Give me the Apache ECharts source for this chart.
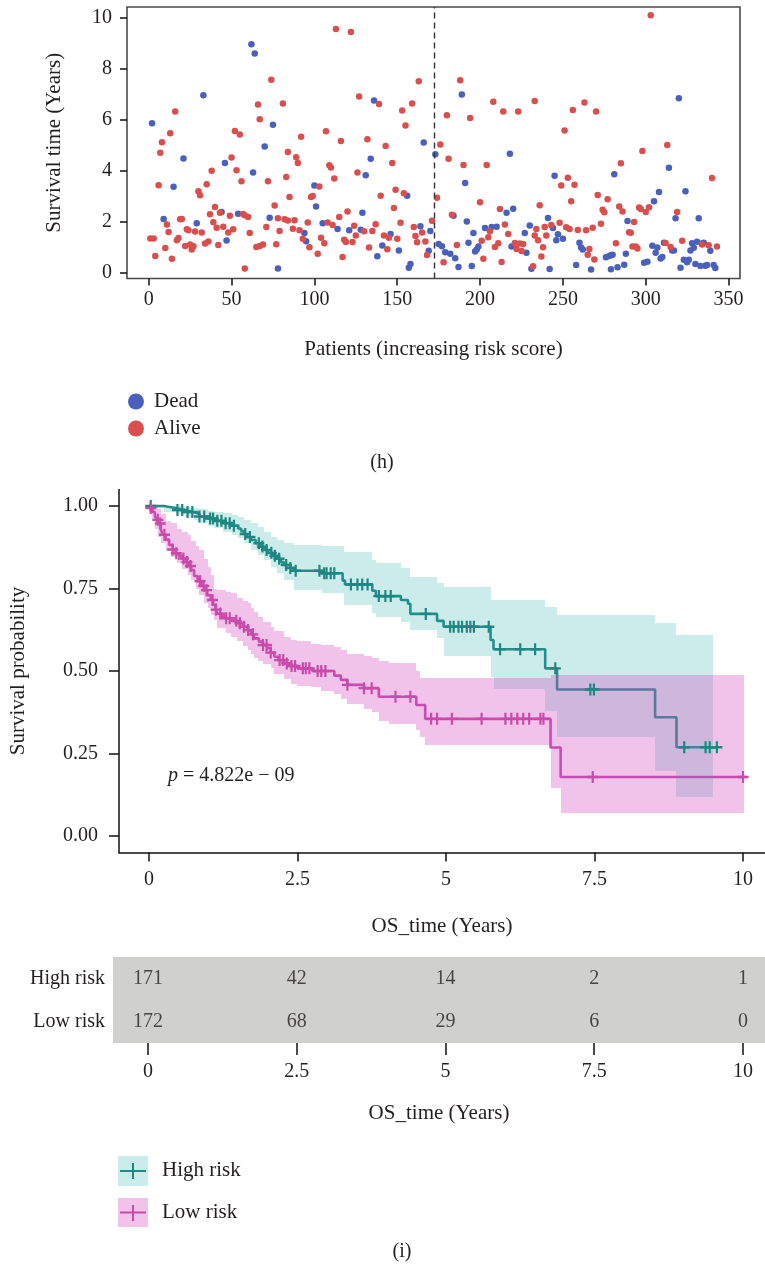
<!DOCTYPE html>
<html>
<head>
<meta charset="utf-8">
<script src="https://cdn.jsdelivr.net/npm/echarts@6/dist/echarts.min.js"></script>
<style>
  html, body { margin: 0; padding: 0; background: #ffffff; }
  #chart { width: 765px; height: 1265px; }
</style>
</head>
<body>
<div id="chart"></div>
<script>
// ---------- (h) survival time per patient, ordered by risk score ----------
const patientTicks = [0, 50, 100, 150, 200, 250, 300, 350];
const survTimeTicks = [0, 2, 4, 6, 8, 10];
const riskCutoff = 172.5;

// [patient, survival time in years]
const deadPoints = [
  [2,5.86],[9,2.10],[15,3.36],[21,4.47],[29,1.93],[33,6.95],[44,2.37],[46,4.30],[47,1.26],[54,2.31],
  [62,8.95],[63,3.92],[64,8.59],[70,4.94],[73,2.15],[75,5.80],[78,0.16],
  [94,1.55],[95,1.23],[100,3.41],[101,2.59],[105,1.93],[114,1.71],[121,1.66],[128,1.68],[129,2.34],
  [131,3.82],[134,4.46],[136,6.75],[138,0.64],[141,1.06],[146,1.51],[151,0.86],[156,3.01],[157,0.19],
  [158,0.33],[164,1.81],[166,5.10],[169,0.85],[170,1.63],
  [173,4.64],[175,1.12],[177,1.03],[179,0.79],[182,0.74],[184,2.23],[185,0.56],[187,0.22],[189,6.98],
  [191,3.51],[192,2.00],[193,1.17],[195,0.26],[196,1.55],[197,0.82],[198,0.90],[199,1.02],[203,1.75],
  [207,1.79],[210,1.80],[216,2.34],[218,4.66],[219,1.02],[220,2.50],[227,1.55],[228,0.78],[230,1.84],
  [231,0.15],[241,2.14],[242,0.14],[244,1.75],[245,3.80],[246,1.27],[247,1.50],[250,1.32],[258,0.29],
  [260,1.17],[261,0.98],[262,0.90],[267,0.12],
  [276,0.60],[278,0.65],[279,0.68],[280,0.70],[279,0.13],[281,3.85],[283,0.21],[287,0.30],[288,0.74],
  [289,2.02],[299,0.38],[301,0.42],[304,1.05],[305,2.80],[306,0.78],[307,0.98],[308,3.16],[309,0.55],
  [310,0.61],[311,1.17],[314,4.11],[316,0.86],[317,0.86],[318,2.13],[320,6.84],[321,0.19],[323,0.50],
  [324,3.19],[325,0.40],[326,0.50],[327,0.86],[328,1.15],[329,0.97],[330,0.33],[331,1.21],[332,2.13],
  [333,0.26],[334,1.14],[335,1.17],[336,0.27],[337,0.29],[339,0.85],[341,0.29],[342,0.18]
];

const alivePoints = [
  [1,1.33],[3,1.33],[4,0.65],[6,3.42],[7,4.70],[8,5.11],[10,0.96],[11,1.88],[12,1.59],[13,5.46],
  [14,0.54],[16,6.32],[17,1.27],[18,1.35],[19,2.09],[20,2.10],[22,1.04],[23,1.70],[24,1.66],[25,1.10],
  [26,0.90],[27,1.03],[28,1.61],[30,3.19],[31,3.03],[32,1.57],[34,1.14],[35,3.46],[36,1.22],[37,2.29],
  [38,3.99],[39,1.97],[40,2.57],[41,1.76],[42,1.08],[43,2.34],[45,1.80],[48,1.57],[49,2.23],[50,4.51],
  [51,1.70],[52,5.55],[53,4.01],[55,5.41],[56,3.58],[57,2.30],[58,2.25],[58,0.16],[60,2.18],[61,1.55],
  [65,1.00],[66,6.59],[67,1.04],[67,6.01],[69,1.10],[71,1.79],[72,3.58],[74,7.56],[76,2.63],[77,1.11],
  [78,2.13],[79,1.63],
  [81,6.63],[82,2.09],[83,3.75],[84,4.73],[84,2.04],[85,2.96],[87,1.72],[88,2.05],[89,4.52],[90,4.30],
  [91,1.66],[92,5.33],[93,1.32],[96,1.96],[97,0.99],[98,2.96],[99,3.00],[102,0.74],[103,3.37],[104,1.36],
  [106,1.15],[107,5.54],[108,1.96],[109,4.21],[110,4.12],[111,1.86],[112,3.69],[113,9.55],[115,2.18],
  [116,5.16],[117,0.61],[118,1.29],[119,1.20],[120,2.39],[122,9.44],[123,1.20],[124,1.83],[125,1.45],
  [126,3.92],[127,6.90],[130,1.62],[132,5.23],[133,0.98],[135,1.63],[137,1.89],[139,6.61],[140,3.01],
  [142,1.45],[143,4.96],[144,0.91],[145,1.36],[147,4.30],[148,2.53],[149,3.25],[150,1.32],[152,1.95],
  [153,6.36],[154,3.11],[155,5.77],[159,6.63],[160,1.79],[161,1.43],[162,1.19],[163,7.50],[165,1.57],
  [167,1.22],[168,0.69],[171,2.03],
  [174,2.93],[176,5.02],[178,0.40],[180,6.17],[181,4.46],[183,2.27],[186,1.08],[188,7.54],[190,4.22],
  [194,6.06],[200,2.76],[201,1.25],[202,0.54],[204,4.22],[205,1.38],[206,1.62],[208,6.70],[209,1.00],
  [211,1.15],[212,2.49],[213,0.41],[214,6.32],[215,1.88],[217,1.51],[221,1.16],[222,0.92],[223,6.32],
  [224,1.14],[225,0.84],[226,1.12],[232,0.25],[233,1.45],[233,6.73],[234,1.71],[235,1.27],[236,2.64],
  [237,0.63],[238,0.99],[239,1.79],[240,1.45],[243,1.86],[248,1.95],[249,3.41],[251,5.57],[252,1.78],
  [253,3.72],[254,1.71],[255,2.80],[256,6.38],[257,3.44],[259,1.67],[263,6.67],[264,1.66],[265,0.70],
  [266,0.92],[268,1.76],[269,0.51],[270,6.32],[271,3.04],
  [273,1.91],[274,2.46],[275,2.36],[277,2.87],[282,1.15],[284,2.59],[285,4.29],[286,2.39],[290,1.58],
  [291,1.56],[292,1.02],[293,1.98],[294,1.02],[295,0.94],[296,2.55],[297,2.49],[298,4.77],[300,2.37],
  [302,2.56],[303,10.09],[312,1.16],[313,5.00],[315,1.00],[319,2.37],[322,1.25],[334,1.10],[338,1.07],
  [340,3.71],[343,1.02]
];

// ---------- (i) Kaplan-Meier curves ----------
const timeTicks = [0, 2.5, 5, 7.5, 10];
const probTicks = [0, 0.25, 0.5, 0.75, 1];

// [time, survival] steps
const highRiskSteps = [
  [0,1.000],[0.25,0.994],[0.45,0.988],[0.60,0.982],[0.75,0.976],[0.85,0.968],[1.00,0.962],[1.10,0.955],
  [1.25,0.948],[1.40,0.940],[1.50,0.932],[1.55,0.924],[1.60,0.915],[1.65,0.906],[1.72,0.897],[1.80,0.887],
  [1.88,0.877],[1.94,0.867],[2.00,0.858],[2.08,0.849],[2.16,0.840],[2.22,0.830],[2.27,0.821],[2.38,0.812],
  [2.45,0.804],[2.92,0.796],[3.26,0.774],[3.30,0.762],[3.76,0.743],[3.82,0.727],[4.24,0.715],[4.36,0.704],
  [4.40,0.673],[4.85,0.652],[4.96,0.634],[5.75,0.594],[5.80,0.566],[6.67,0.508],[6.87,0.444],[8.52,0.360],
  [8.88,0.269]
];
const highRiskEnd = 9.56;

const lowRiskSteps = [
  [0,1.000],[0.03,0.994],[0.06,0.982],[0.10,0.970],[0.13,0.958],[0.16,0.947],[0.20,0.930],[0.23,0.913],
  [0.28,0.898],[0.34,0.882],[0.40,0.868],[0.45,0.857],[0.50,0.849],[0.56,0.841],[0.62,0.830],[0.67,0.818],
  [0.71,0.806],[0.76,0.788],[0.82,0.772],[0.88,0.758],[0.93,0.745],[0.98,0.730],[1.04,0.715],[1.08,0.700],
  [1.12,0.686],[1.15,0.674],[1.22,0.667],[1.29,0.660],[1.40,0.652],[1.49,0.645],[1.58,0.634],[1.66,0.624],
  [1.72,0.611],[1.77,0.599],[1.85,0.589],[1.92,0.579],[1.99,0.569],[2.05,0.556],[2.11,0.543],[2.18,0.533],
  [2.27,0.523],[2.38,0.515],[2.50,0.508],[2.75,0.500],[3.12,0.486],[3.23,0.473],[3.34,0.458],[3.62,0.448],
  [3.87,0.422],[4.50,0.397],[4.65,0.355],[6.76,0.268],[6.93,0.179]
];
const lowRiskEnd = 10.05;

// confidence band steps: [start time, lower, upper]
const highRiskBand = [
  [0.00,0.995,1.000],[0.25,0.983,1.000],[0.45,0.975,1.000],[0.60,0.966,0.998],[0.75,0.958,0.995],
  [0.85,0.948,0.990],[1.00,0.940,0.986],[1.10,0.932,0.982],[1.25,0.922,0.978],[1.40,0.912,0.972],
  [1.50,0.902,0.966],[1.60,0.888,0.958],[1.72,0.868,0.948],[1.83,0.851,0.937],[1.94,0.836,0.922],
  [2.05,0.816,0.907],[2.16,0.796,0.897],[2.27,0.775,0.887],[2.45,0.745,0.882],[2.92,0.735,0.878],
  [3.28,0.700,0.861],[3.76,0.676,0.836],[3.82,0.665,0.828],[4.24,0.650,0.811],[4.40,0.624,0.784],
  [4.85,0.600,0.768],[4.96,0.545,0.754],[5.75,0.483,0.714],[5.80,0.445,0.714],[6.67,0.380,0.695],
  [6.87,0.300,0.670],[8.52,0.198,0.646],[8.88,0.119,0.609]
];
const highRiskBandEnd = 9.50;

const lowRiskBand = [
  [0.00,0.985,1.000],[0.05,0.960,1.000],[0.10,0.930,0.998],[0.15,0.905,0.990],[0.20,0.887,0.975],
  [0.28,0.865,0.955],[0.37,0.845,0.947],[0.48,0.826,0.930],[0.56,0.810,0.920],[0.65,0.790,0.912],
  [0.71,0.775,0.895],[0.80,0.750,0.880],[0.85,0.730,0.867],[0.93,0.705,0.840],[0.99,0.690,0.816],
  [1.04,0.670,0.790],[1.10,0.654,0.750],[1.15,0.630,0.745],[1.29,0.615,0.738],[1.38,0.603,0.735],
  [1.49,0.590,0.720],[1.58,0.575,0.712],[1.66,0.565,0.705],[1.71,0.553,0.690],[1.77,0.540,0.680],
  [1.83,0.530,0.664],[1.92,0.520,0.650],[2.05,0.508,0.634],[2.11,0.490,0.620],[2.27,0.475,0.603],
  [2.39,0.462,0.595],[2.50,0.455,0.590],[2.72,0.452,0.583],[2.89,0.440,0.578],[3.12,0.430,0.574],
  [3.23,0.415,0.563],[3.34,0.400,0.553],[3.62,0.385,0.545],[3.76,0.375,0.538],[3.87,0.350,0.530],
  [4.04,0.340,0.523],[4.50,0.320,0.500],[4.57,0.300,0.480],[4.65,0.276,0.480],[6.76,0.145,0.488],
  [6.93,0.069,0.488]
];
const lowRiskBandEnd = 10.02;

// censoring times
const highRiskCensor = [
  0.03,0.48,0.56,0.65,0.73,0.85,0.93,1.03,1.08,1.15,1.22,1.29,1.36,1.43,1.62,1.70,1.85,1.91,1.98,2.06,
  2.12,2.19,2.31,2.38,2.47,2.87,2.95,2.99,3.06,3.12,3.40,3.51,3.59,3.68,3.87,3.98,4.07,4.66,5.07,5.13,
  5.21,5.27,5.35,5.41,5.47,5.72,5.91,6.25,6.50,6.84,7.43,7.49,9.01,9.37,9.44,9.56
];
const lowRiskCensor = [
  0.03,0.15,0.19,0.26,0.40,0.46,0.58,0.64,0.70,0.86,0.92,0.97,1.07,1.13,1.20,1.30,1.36,1.47,1.53,1.60,
  1.67,1.75,1.92,1.98,2.05,2.20,2.26,2.32,2.40,2.46,2.59,2.64,2.70,2.84,2.90,2.97,3.34,3.62,3.75,4.15,
  4.40,4.75,4.85,5.10,5.60,6.00,6.10,6.20,6.30,6.40,6.59,6.64,7.47,10.00
];

// number at risk
const riskGroups = ['Low risk', 'High risk'];
const highRiskAtRisk = [171, 42, 14, 2, 1];
const lowRiskAtRisk = [172, 68, 29, 6, 0];

const pValueText = '4.822e \u2212 09';

// ---------- styling ----------
const FONT = 'Liberation Serif';
const TEXT = '#231f20';
const DEAD_COLOR = '#4a60bd';
const ALIVE_COLOR = '#d84f4d';
const HIGH_LINE = '#1f8782';
const LOW_LINE = '#c84baa';
const HIGH_FILL = 'rgba(40,175,170,0.24)';
const LOW_FILL = 'rgba(212,72,190,0.33)';
const PLUS = 'path://M4,0H6V4H10V6H6V10H4V6H0V4H4Z';

function curveData(steps, end) {
  const d = steps.map(s => [s[0], s[1]]);
  d.push([end, steps[steps.length - 1][1]]);
  return d;
}
function bandData(band, end) {
  return band.map((b, i) => [b[0], i + 1 < band.length ? band[i + 1][0] : end, b[1], b[2]]);
}
function survAt(steps, t) {
  let s = steps[0][1];
  for (const [ti, si] of steps) { if (ti <= t) s = si; else break; }
  return s;
}
function bandRenderer(fill) {
  return function (params, api) {
    const a = api.coord([api.value(0), api.value(3)]);
    const b = api.coord([api.value(1), api.value(2)]);
    const x0 = Math.round(a[0]), x1 = Math.round(b[0]);
    const y0 = Math.round(a[1]), y1 = Math.round(b[1]);
    return { type: 'rect', shape: { x: x0, y: y0, width: x1 - x0, height: y1 - y0 }, style: { fill: fill } };
  };
}

const tickLabel = { fontFamily: FONT, fontSize: 20, color: TEXT };
const axisTitle = { fontFamily: FONT, fontSize: 21, color: TEXT };
const tickStyle = { color: '#111', width: 1.5 };

const chart = echarts.init(document.getElementById('chart'), null, { renderer: 'canvas' });

const option = {
  backgroundColor: '#ffffff',
  animation: false,
  grid: [
    { left: 127, top: 7, width: 613, height: 271.5, show: true, borderColor: '#4a4a4a', borderWidth: 1.6, containLabel: false },
    { left: 118, top: 489.5, right: 0, height: 363, containLabel: false },
    { left: 113, top: 957, right: 0, height: 86, show: true, backgroundColor: '#d0d0cf', borderWidth: 0, containLabel: false }
  ],
  xAxis: [
    {
      gridIndex: 0, type: 'value', min: -13.1, max: 356.9,
      name: 'Patients (increasing risk score)', nameLocation: 'middle', nameGap: 60, nameTextStyle: axisTitle,
      axisLine: { show: false, onZero: false },
      axisTick: { show: true, length: 7, lineStyle: tickStyle, customValues: patientTicks },
      axisLabel: Object.assign({ margin: 11, customValues: patientTicks }, tickLabel),
      splitLine: { show: false }
    },
    {
      gridIndex: 1, type: 'value', min: -0.5042, max: 10.370,
      name: 'OS_time (Years)', nameLocation: 'middle', nameGap: 63, nameTextStyle: axisTitle,
      axisLine: { show: true, onZero: false, lineStyle: { color: '#111', width: 1.5 } },
      axisTick: { show: true, length: 9, lineStyle: tickStyle, customValues: timeTicks },
      axisLabel: Object.assign({ margin: 17, customValues: timeTicks, formatter: v => String(v) }, tickLabel),
      splitLine: { show: false }
    },
    {
      gridIndex: 2, type: 'value', min: -0.588, max: 10.370,
      name: 'OS_time (Years)', nameLocation: 'middle', nameGap: 60, nameTextStyle: axisTitle,
      axisLine: { show: false, onZero: false },
      axisTick: { show: true, length: 12, lineStyle: tickStyle, customValues: timeTicks },
      axisLabel: Object.assign({ margin: 19, customValues: timeTicks, formatter: v => String(v) }, tickLabel),
      splitLine: { show: false }
    }
  ],
  yAxis: [
    {
      gridIndex: 0, type: 'value', min: -0.235, max: 10.416,
      name: 'Survival time (Years)', nameLocation: 'middle', nameGap: 62, nameTextStyle: axisTitle,
      axisLine: { show: false, onZero: false },
      axisTick: { show: true, length: 7, lineStyle: tickStyle, customValues: survTimeTicks },
      axisLabel: Object.assign({ margin: 15, customValues: survTimeTicks }, tickLabel),
      splitLine: { show: false }
    },
    {
      gridIndex: 1, type: 'value', min: -0.05, max: 1.05,
      name: 'Survival probability', nameLocation: 'middle', nameGap: 90, nameTextStyle: axisTitle,
      axisLine: { show: true, onZero: false, lineStyle: { color: '#111', width: 1.5 } },
      axisTick: { show: true, length: 10, lineStyle: tickStyle, customValues: probTicks },
      axisLabel: Object.assign({ margin: 21, customValues: probTicks, formatter: v => v.toFixed(2) }, tickLabel),
      splitLine: { show: false }
    },
    {
      gridIndex: 2, type: 'category', data: riskGroups,
      axisLine: { show: false, onZero: false }, axisTick: { show: false },
      axisLabel: Object.assign({ margin: 8 }, tickLabel),
      splitLine: { show: false }
    }
  ],
  legend: {
    data: ['Dead', 'Alive'], orient: 'vertical', left: 123, top: 386,
    icon: 'circle', itemWidth: 26, itemHeight: 16, itemGap: 6,
    itemStyle: { opacity: 1 },
    textStyle: { fontFamily: FONT, fontSize: 21, color: TEXT }
  },
  graphic: [
    { type: 'text', x: 382, y: 463, style: { text: '(h)', fontFamily: FONT, fontSize: 20, fill: TEXT, align: 'center', verticalAlign: 'middle' } },
    { type: 'text', x: 402, y: 1252, style: { text: '(i)', fontFamily: FONT, fontSize: 20, fill: TEXT, align: 'center', verticalAlign: 'middle' } },
    {
      type: 'text', x: 168, y: 776, z: 10,
      style: {
        text: '{i|p} = ' + pValueText, verticalAlign: 'middle',
        fontFamily: FONT, fontSize: 20, fill: TEXT,
        rich: { i: { fontFamily: FONT, fontSize: 20, fontStyle: 'italic', fill: TEXT } }
      }
    },
    // legend for the survival curves
    { type: 'rect', shape: { x: 118, y: 1156, width: 30, height: 30 }, style: { fill: HIGH_FILL } },
    { type: 'line', shape: { x1: 120, y1: 1171, x2: 146, y2: 1171 }, style: { stroke: HIGH_LINE, lineWidth: 2 } },
    { type: 'line', shape: { x1: 133, y1: 1163, x2: 133, y2: 1179 }, style: { stroke: HIGH_LINE, lineWidth: 2 } },
    { type: 'text', x: 162, y: 1170, style: { text: 'High risk', fontFamily: FONT, fontSize: 21, fill: TEXT, verticalAlign: 'middle' } },
    { type: 'rect', shape: { x: 118, y: 1198, width: 30, height: 29 }, style: { fill: LOW_FILL } },
    { type: 'line', shape: { x1: 120, y1: 1212.5, x2: 146, y2: 1212.5 }, style: { stroke: LOW_LINE, lineWidth: 2 } },
    { type: 'line', shape: { x1: 133, y1: 1205, x2: 133, y2: 1221 }, style: { stroke: LOW_LINE, lineWidth: 2 } },
    { type: 'text', x: 162, y: 1212, style: { text: 'Low risk', fontFamily: FONT, fontSize: 21, fill: TEXT, verticalAlign: 'middle' } }
  ],
  series: [
    {
      name: 'Dead', type: 'scatter', xAxisIndex: 0, yAxisIndex: 0,
      data: deadPoints, symbol: 'circle', symbolSize: 6.5,
      itemStyle: { color: DEAD_COLOR, opacity: 1 }, z: 3,
      markLine: {
        silent: true, symbol: ['none', 'none'], label: { show: false },
        lineStyle: { color: '#333', type: [6, 4], width: 1.4 },
        data: [{ xAxis: riskCutoff }]
      }
    },
    {
      name: 'Alive', type: 'scatter', xAxisIndex: 0, yAxisIndex: 0,
      data: alivePoints, symbol: 'circle', symbolSize: 6.5,
      itemStyle: { color: ALIVE_COLOR, opacity: 1 }, z: 3
    },
    {
      name: 'High risk curve', type: 'line', xAxisIndex: 1, yAxisIndex: 1,
      data: curveData(highRiskSteps, highRiskEnd), step: 'end', showSymbol: false, symbol: 'none',
      lineStyle: { color: HIGH_LINE, width: 2.6 }, z: 2
    },
    {
      name: 'Low risk curve', type: 'line', xAxisIndex: 1, yAxisIndex: 1,
      data: curveData(lowRiskSteps, lowRiskEnd), step: 'end', showSymbol: false, symbol: 'none',
      lineStyle: { color: LOW_LINE, width: 2.6 }, z: 2
    },
    {
      name: 'High risk band', type: 'custom', xAxisIndex: 1, yAxisIndex: 1,
      data: bandData(highRiskBand, highRiskBandEnd), encode: { x: [0, 1], y: [2, 3] },
      renderItem: bandRenderer(HIGH_FILL), silent: true, z: 3
    },
    {
      name: 'Low risk band', type: 'custom', xAxisIndex: 1, yAxisIndex: 1,
      data: bandData(lowRiskBand, lowRiskBandEnd), encode: { x: [0, 1], y: [2, 3] },
      renderItem: bandRenderer(LOW_FILL), silent: true, z: 4
    },
    {
      name: 'High risk censored', type: 'scatter', xAxisIndex: 1, yAxisIndex: 1,
      data: highRiskCensor.map(t => [t, survAt(highRiskSteps, t)]),
      symbol: PLUS, symbolSize: [11, 12], itemStyle: { color: HIGH_LINE, opacity: 1 }, z: 5
    },
    {
      name: 'Low risk censored', type: 'scatter', xAxisIndex: 1, yAxisIndex: 1,
      data: lowRiskCensor.map(t => [t, survAt(lowRiskSteps, t)]),
      symbol: PLUS, symbolSize: [11, 12], itemStyle: { color: LOW_LINE, opacity: 1 }, z: 5
    },
    {
      name: 'At risk', type: 'scatter', xAxisIndex: 2, yAxisIndex: 2,
      data: timeTicks.map((t, i) => [t, 'High risk', highRiskAtRisk[i]])
        .concat(timeTicks.map((t, i) => [t, 'Low risk', lowRiskAtRisk[i]])),
      encode: { x: 0, y: 1 },
      symbolSize: 0, itemStyle: { color: 'transparent' },
      label: {
        show: true, position: 'inside', formatter: p => String(p.value[2]),
        fontFamily: FONT, fontSize: 20, color: TEXT
      }
    }
  ]
};

chart.setOption(option);
</script>
</body>
</html>
